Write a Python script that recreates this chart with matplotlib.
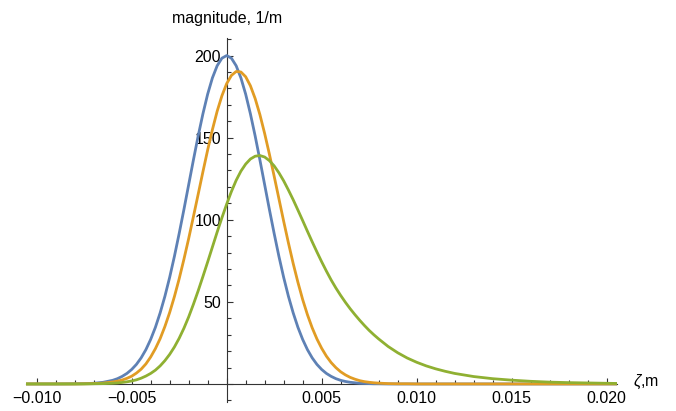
import numpy as np
import matplotlib
matplotlib.use("Agg")
import matplotlib.pyplot as plt
from matplotlib.ticker import MultipleLocator, FixedLocator, FuncFormatter

plt.rcParams['font.family'] = ['Liberation Sans', 'DejaVu Sans']
plt.rcParams['mathtext.fontset'] = 'custom'
plt.rcParams['mathtext.it'] = 'Liberation Sans:italic'
plt.rcParams['mathtext.rm'] = 'Liberation Sans'

# zeta positions in mm
zeta_mm = np.concatenate([
    [-10.5, -10, -9, -8, -7.5, -7, -6.5],
    np.arange(-6, 8.01, 0.25),
    [8.5, 9, 9.5, 10, 10.5, 11, 11.5, 12, 13, 14, 15, 16, 17, 18, 19, 20, 20.5],
])

# magnitude, 1/m
blue = [0, 0, 0, 0.1, 0.2, 0.4, 1.0,
        2.2, 3.2, 4.6, 6.4, 8.8, 11.9, 15.9, 20.9, 27.1, 34.5, 43.3, 53.4, 64.9,
        77.7, 91.6, 106.2, 121.3, 136.4, 151.0, 164.5, 176.5, 186.4, 193.8, 198.4,
        200.0,
        198.4, 193.8, 186.4, 176.5, 164.5, 151.0, 136.4, 121.3, 106.2, 91.6, 77.7,
        64.9, 53.4, 43.3, 34.5, 27.1, 20.9, 15.9, 11.9, 8.8, 6.4, 4.6, 3.2, 2.2,
        1.5, 1.0, 0.7, 0.4, 0.3, 0.2, 0.1, 0.1,
        0, 0, 0, 0, 0, 0, 0, 0, 0, 0, 0, 0, 0, 0, 0, 0, 0]

orange = [0, 0, 0, 0, 0.1, 0.2, 0.5,
          1.2, 1.7, 2.4, 3.4, 4.7, 6.6, 9.0, 12.2, 16.4, 21.5, 27.6, 35.0, 43.5,
          53.2, 64.0, 75.9, 88.5, 101.9, 115.5, 129.2, 142.5, 154.9, 166.1, 175.5,
          182.9,
          187.9, 190.3, 190.0, 187.1, 181.6, 173.8, 164.0, 152.5, 139.9, 126.5,
          112.8, 99.1, 85.9, 73.4, 61.9, 51.4, 42.2, 34.2, 27.4, 21.7, 16.9, 13.0,
          9.9, 7.4, 5.5, 4.0, 2.9, 2.0, 1.4, 1.0, 0.7, 0.5,
          0.2, 0.1, 0.1, 0, 0, 0, 0, 0, 0, 0, 0, 0, 0, 0, 0, 0, 0]

green = [0, 0, 0, 0, 0, 0.1, 0.2,
         0.4, 0.6, 0.9, 1.3, 1.8, 2.5, 3.5, 4.8, 6.4, 8.4, 11.0, 14.2, 18.0,
         22.5, 27.8, 33.9, 40.8, 48.5, 56.7, 65.4, 74.3, 83.4, 92.5, 101.2,
         109.5,
         117.2, 124.0, 129.6, 133.9, 137.0, 138.7, 139.1, 138.2, 136.0, 132.8,
         128.6, 123.7, 118.1, 112.2, 105.9, 99.5, 93.0, 86.6, 80.4, 74.4, 68.7,
         63.3, 58.4, 53.9, 49.7, 45.8, 42.2, 38.8, 35.6, 32.6, 29.9, 27.4,
         22.8, 19.0, 15.8, 13.2, 11.0, 9.2, 7.7, 6.4, 4.5, 3.2, 2.3, 1.6, 1.1,
         0.8, 0.6, 0.4, 0.3]

zeta = zeta_mm / 1000.0

fig = plt.figure(figsize=(6.76, 4.11), dpi=100)
ax = fig.add_axes([26/676, 9/411, (617-26)/676, (402-38)/411])

for vals, col in [(blue, '#5E81B5'), (orange, '#E19C24'), (green, '#8FB032')]:
    ax.plot(zeta, vals, color=col, lw=2.0, zorder=3, solid_joinstyle='round')

ax.set_xlim(-0.01056, 0.020542)
ax.set_ylim(-11, 210.7)

for s in ['top', 'right']:
    ax.spines[s].set_visible(False)
ax.spines['left'].set_position(('data', 0))
ax.spines['bottom'].set_position(('data', 0))
for s in ['left', 'bottom']:
    ax.spines[s].set_color('#333333')
    ax.spines[s].set_linewidth(0.8)
    ax.spines[s].set_zorder(2)

ax.xaxis.set_major_locator(FixedLocator([-0.010, -0.005, 0, 0.005, 0.010, 0.015, 0.020]))
ax.xaxis.set_minor_locator(MultipleLocator(0.001))
ax.yaxis.set_major_locator(FixedLocator([0, 50, 100, 150, 200]))
ax.yaxis.set_minor_locator(MultipleLocator(10))

ax.xaxis.set_major_formatter(FuncFormatter(
    lambda v, p: '' if abs(v) < 1e-9 else ('%.3f' % v).replace('-', '\u2212')))
ax.yaxis.set_major_formatter(FuncFormatter(
    lambda v, p: '' if abs(v) < 1e-9 else '%d' % v))

ax.tick_params(which='both', direction='in', color='#333333', width=0.8,
               labelsize=11.5, labelcolor='black')
ax.tick_params(which='major', length=4.5)
ax.tick_params(which='minor', length=2.6)
ax.tick_params(axis='x', pad=5)
ax.tick_params(axis='y', pad=4)

fig.text(226.7/676, (411-18)/411, 'magnitude, 1/m', ha='center', va='center',
         fontsize=11.5)
fig.text(633/676, (411-382)/411, r'$\zeta$,m', ha='left', va='center',
         fontsize=11.5)

fig.savefig('out.png', dpi=100)
